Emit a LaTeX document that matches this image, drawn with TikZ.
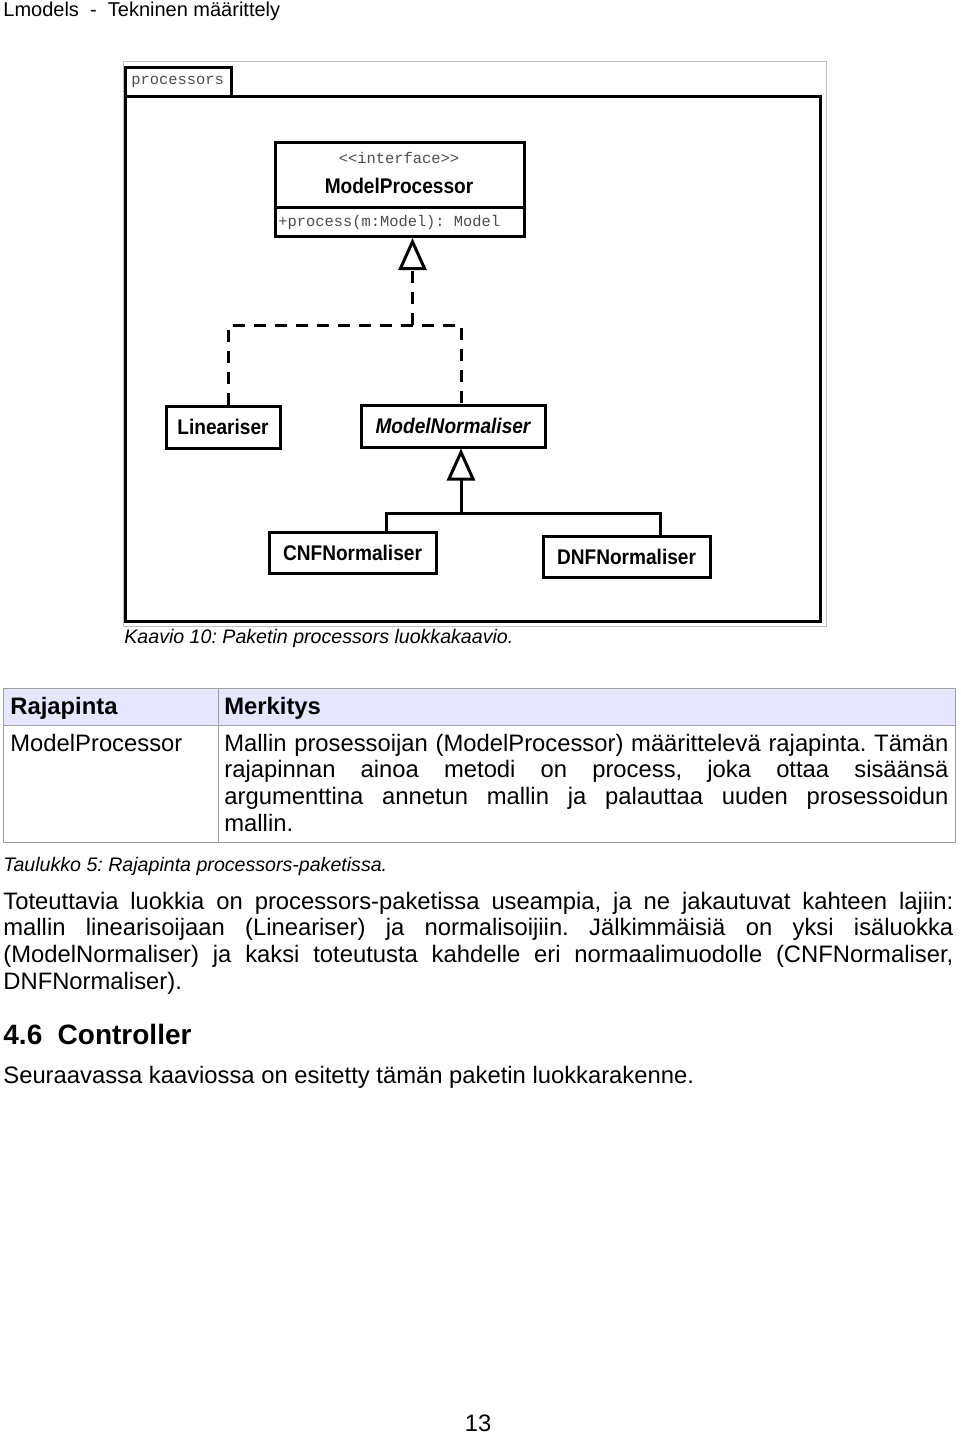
\documentclass[tikz,border=0pt]{standalone}
\usepackage{fontspec}
\setmainfont{Liberation Sans}
\setmonofont{Liberation Mono}
\usepackage{graphicx}
\usetikzlibrary{arrows.meta}
\definecolor{hdrfill}{HTML}{E6E6FF}
\definecolor{tblline}{HTML}{A0A0A0}
\newcommand{\condb}[1]{\scalebox{0.9}[1]{\bfseries #1}}
\frenchspacing
\begin{document}
\begin{tikzpicture}[x=0.5pt,y=-0.5pt,
  cls/.style={draw,line width=1.5pt,inner sep=0pt,font=\fontsize{10.6}{12}\selectfont},
  mono/.style={font=\ttfamily\fontsize{7.7}{9}\selectfont, text=black!70, inner sep=0pt},
  real/.style={line width=1.5pt, dash pattern=on 6pt off 4.5pt},
  gen/.style={line width=1.5pt},
  tip/.style={-{Triangle[open,length=16pt,width=14pt]}},
  body/.style={font=\fontsize{11.9}{13.4}\selectfont, inner sep=0pt},
  captxt/.style={font=\itshape\fontsize{9.8}{12}\selectfont, inner sep=0pt},
]
\useasboundingbox (0,0) rectangle (960,1434);

% page header
\node[anchor=base west, font=\fontsize{10}{12}\selectfont, inner sep=0pt] (hdr) at (3,17) {Lmodels\ \ -\ \ Tekninen määrittely};

% package frame
\draw[gray!50, line width=0.5pt] (123,62) rectangle (826,626);
\node[draw, line width=1.5pt, anchor=north west, minimum width=53pt, minimum height=14.5pt, inner sep=0pt] (tab) at (124,66) {};
\node[mono, anchor=west] (tabtxt) at (131,82) {processors};
\node[draw, line width=1.5pt, anchor=north west, minimum width=347.5pt, minimum height=262.5pt, inner sep=0pt] (pkg) at (124,95) {};

% interface
\node[cls, anchor=north west, minimum width=124.5pt, minimum height=47pt] (mp) at (274,141) {};
\draw[line width=1.5pt] (mp.west |- 0,207) -- (mp.east |- 0,207);
\node[mono] (st) at (399,158) {\textless\textless interface\textgreater\textgreater};
\node[inner sep=0pt, font=\fontsize{10.6}{12}\selectfont] (mpname) at (399,186) {\condb{ModelProcessor}};
\node[mono, anchor=west] (meth) at (278,223) {+process(m:Model): Model};

% classes
\node[cls, minimum width=57pt, minimum height=21pt] (lin) at (223,427) {\condb{Lineariser}};
\node[cls, minimum width=92pt, minimum height=21pt] (mn) at (453,426) {\condb{\itshape ModelNormaliser}};
\node[cls, minimum width=83.5pt, minimum height=20.5pt] (cnf) at (352.5,552.5) {\condb{CNFNormaliser}};
\node[cls, minimum width=83.5pt, minimum height=20.5pt] (dnf) at (626.5,556.5) {\condb{DNFNormaliser}};

% realization
\draw[real] ([xshift=2.5pt]lin.north) |- ([xshift=4pt]mn.north |- 0,325) -- ([xshift=4pt]mn.north);
\draw[real,tip] ([xshift=6.25pt]mp.south |- 0,325) -- ([xshift=6.25pt]mp.south);

% generalization
\draw[gen] ([xshift=17pt]cnf.north) |- ([xshift=17pt]dnf.north |- 0,513) -- ([xshift=17pt]dnf.north);
\draw[gen,tip] ([xshift=4pt]mn.south |- 0,513) -- ([xshift=4pt]mn.south);

\node[captxt, anchor=base west] (cap1) at (124,643) {Kaavio 10: Paketin processors luokkakaavio.};

% table
\fill[hdrfill] (3,688) rectangle (955,725);
\draw[tblline, line width=0.5pt] (3,688) rectangle (955,842) (3,725) -- (955,725) (218,688) -- (218,842);
\node[body, anchor=base west] (th1) at (10,714) {\bfseries Rajapinta};
\node[body, anchor=base west] (th2) at (224,714) {\bfseries Merkitys};
\node[body, anchor=base west] (td1) at (10,751) {ModelProcessor};
\node[body, anchor=base west, text width=362pt, align=justify] (td2) at (224,751) {Mallin prosessoijan (ModelProcessor) määrittelevä rajapinta. Tämän\linebreak rajapinnan ainoa metodi on process, joka ottaa sisäänsä\linebreak argumenttina annetun mallin ja palauttaa uuden prosessoidun\linebreak mallin.};

\node[captxt, anchor=base west] (cap2) at (3,871) {Taulukko 5: Rajapinta processors-paketissa.};

\node[body, anchor=base west, text width=475pt, align=justify] (par) at (3,909) {Toteuttavia luokkia on processors-paketissa useampia, ja ne jakautuvat kahteen lajiin:\linebreak mallin linearisoijaan (Lineariser) ja normalisoijiin. Jälkimmäisiä on yksi isäluokka\linebreak (ModelNormaliser) ja kaksi toteutusta kahdelle eri normaalimuodolle (CNFNormaliser,\linebreak DNFNormaliser).};

\node[anchor=base west, inner sep=0pt, font=\bfseries\fontsize{14}{16}\selectfont] (sec) at (3,1044) {4.6\hspace{0.55em}Controller};
\node[body, anchor=base west] (intro) at (3,1083) {Seuraavassa kaaviossa on esitetty tämän paketin luokkarakenne.};

\node[body, anchor=base] (pg) at (478,1431) {13};
\end{tikzpicture}
\end{document}
